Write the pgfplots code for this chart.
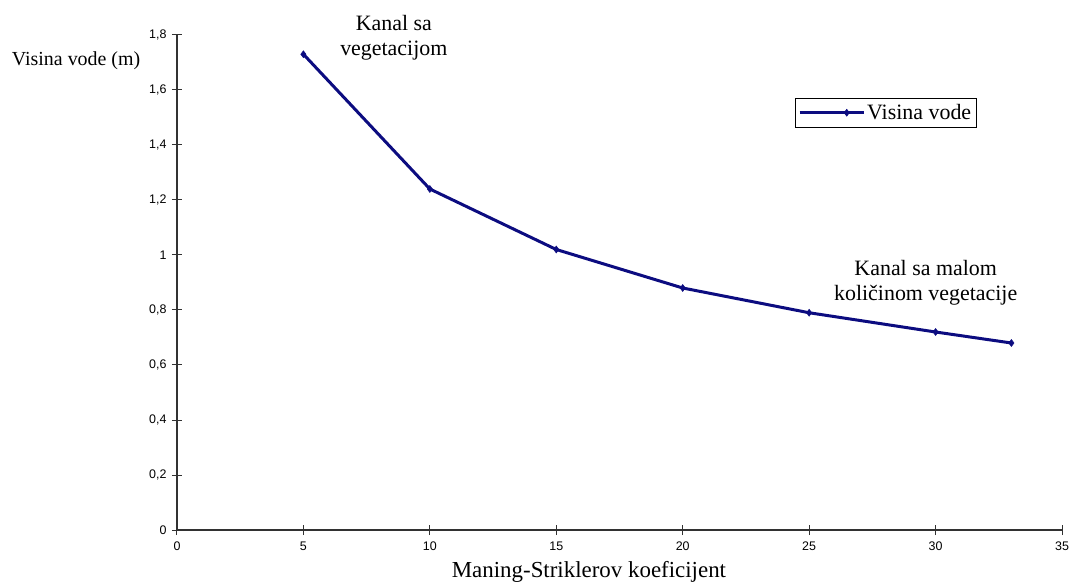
\documentclass[border=0pt]{standalone}
\usepackage{fontspec}
\setmainfont{Liberation Serif}
\newfontfamily\sansf{Liberation Sans}
\usepackage{pgfplots}
\pgfplotsset{compat=1.18}
\definecolor{navyline}{RGB}{12,12,128}
\definecolor{axgray}{RGB}{50,50,50}
\begin{document}
\begin{tikzpicture}
\useasboundingbox (-177bp,-53bp) rectangle (895bp,530bp);
\begin{axis}[
  scale only axis,
  width=885bp, height=495bp,
  xmin=0, xmax=35, ymin=0, ymax=1.8,
  xtick={0,5,...,35},
  ytick={0,0.2,...,1.8},
  axis x line*=bottom, axis y line*=left,
  axis line style={axgray, line width=1.3bp},
  tick style={axgray, line width=1bp},
  tick align=center,
  major tick length=10bp,
  clip=false,
  /pgf/number format/assume math mode=true,
  /pgf/number format/use comma,
  /pgf/number format/fixed,
  ticklabel style={font=\sansf\fontsize{12.5}{14}\selectfont},
  xticklabel style={yshift=-3bp},
  yticklabel style={xshift=-2bp},
  xlabel={Maning-Striklerov koeficijent},
  xlabel style={at={(axis description cs:0.4655,0)}, anchor=center, yshift=-42bp, font=\fontsize{23}{26}\selectfont},
  legend style={at={(axis description cs:0.698,0.873)}, anchor=north west, draw=black, line width=1bp, inner xsep=3bp, inner ysep=4bp, font=\fontsize{22}{25}\selectfont, fill=white},
  legend image code/.code={\path (-31bp,0bp) -- (0bp,0bp); \draw[mark repeat=2, mark phase=2, #1] plot coordinates {(0bp,0bp) (16bp,0bp) (33bp,0bp)};},
  /tikz/every odd column/.append style={column sep=0pt},
]
\addplot[color=navyline, line width=3bp, mark=diamond*, mark size=3.5bp, mark options={solid, fill=navyline, line width=0.5bp}]
  coordinates {(5,1.73) (10,1.24) (15,1.02) (20,0.88) (25,0.79) (30,0.72) (33,0.68)};
\addlegendentry{Visina vode}
\node[font=\fontsize{20}{24}\selectfont, anchor=center] at (axis description cs:-0.114,0.949) {Visina vode (m)};
\node[font=\fontsize{22}{25}\selectfont, anchor=north, align=center, inner sep=0pt] at (axis description cs:0.245,1.040) {Kanal sa\\vegetacijom};
\node[font=\fontsize{22}{25}\selectfont, anchor=north, align=center, inner sep=0pt] at (axis description cs:0.846,0.545) {Kanal sa malom\\količinom vegetacije};
\end{axis}
\end{tikzpicture}
\end{document}
